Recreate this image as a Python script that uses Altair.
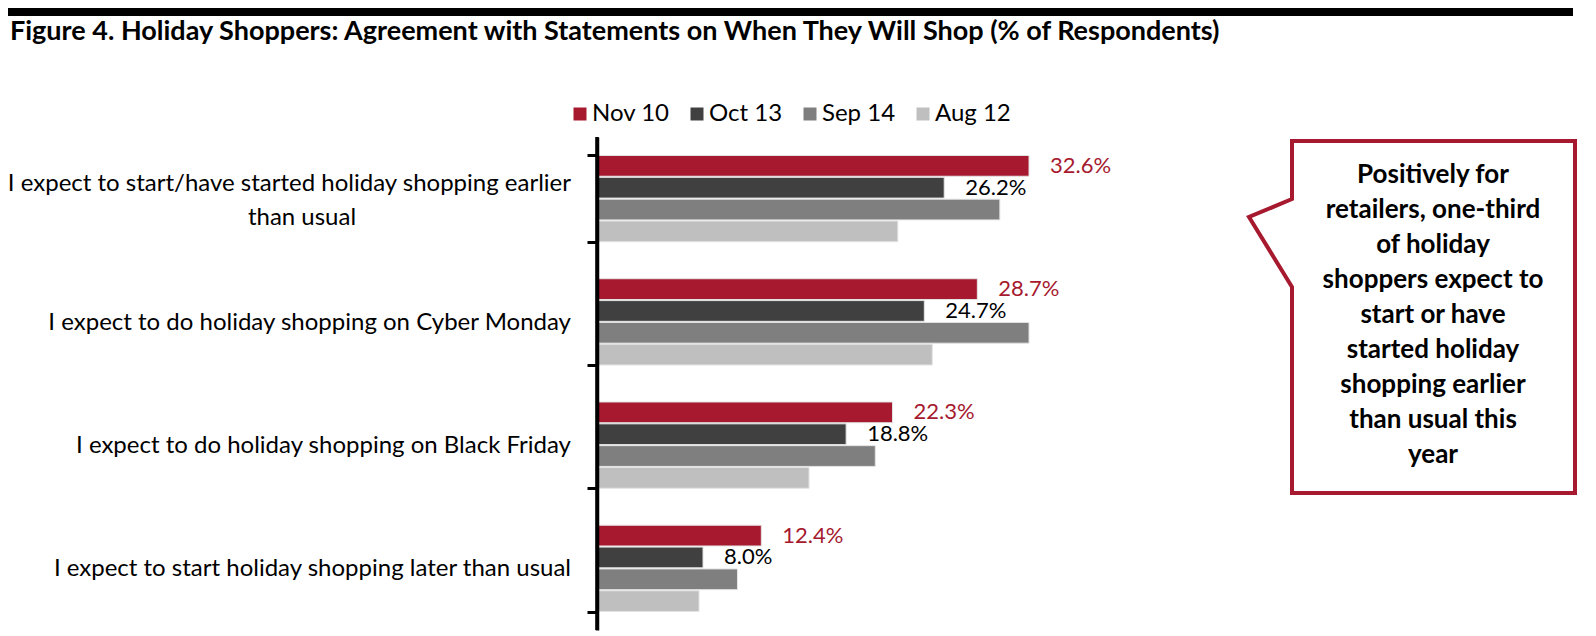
import altair as alt
import pandas as pd

# ---------------- data ----------------
categories = [
    "I expect to start/have started holiday shopping earlier than usual",
    "I expect to do holiday shopping on Cyber Monday",
    "I expect to do holiday shopping on Black Friday",
    "I expect to start holiday shopping later than usual",
]
first_label_lines = ["I expect to start/have started holiday shopping earlier", "than usual"]
series = ["Nov 10", "Oct 13", "Sep 14", "Aug 12"]
colors = ["#A6192E", "#404040", "#7F7F7F", "#BFBFBF"]
nov10 = [32.6, 28.7, 22.3, 12.4]
oct13 = [26.2, 24.7, 18.8, 8.0]
sep14 = [30.4, 32.6, 21.0, 10.6]
aug12 = [22.7, 25.3, 16.0, 7.7]

title_text = "Figure 4. Holiday Shoppers: Agreement with Statements on When They Will Shop (% of Respondents)"
callout_lines = [
    "Positively for", "retailers, one-third", "of holiday", "shoppers expect to",
    "start or have", "started holiday", "shopping earlier", "than usual this", "year",
]
# callout outline (pixel positions of the annotation shape)
callout_x = [836, 978, 978, 695, 695, 652, 695, 695, 836]
callout_y = [4, 4, 356, 356, 150, 80, 62, 4, 4]

# ---------------- tables ----------------
rows = []
for s, vals in zip(series, [nov10, oct13, sep14, aug12]):
    for c, v in zip(categories, vals):
        rows.append({"category": c, "series": s, "value": v})
df = pd.DataFrame(rows)
df["label"] = df["value"].map(lambda v: f"{v:.1f}%")

FONT = "Lato"
RED = "#A6192E"
W, H = 978, 493
XMAX = 73.8

xscale = alt.Scale(domain=[0, XMAX], nice=False, zero=True)
yscale = alt.Scale(paddingInner=0.3, paddingOuter=0.15)
yoff_scale = alt.Scale(paddingInner=0.05, paddingOuter=0)
yaxis = alt.Axis(
    labels=False, title=None, grid=False, domain=True, domainColor="black", domainWidth=3.5,
    ticks=True, tickColor="black", tickWidth=3, tickSize=10, tickBand="extent", zindex=1,
)

def ycat():
    return alt.Y("category:N", sort=categories, scale=yscale, axis=yaxis)

bars = alt.Chart(df).mark_bar(stroke="#E4E4E4", strokeWidth=1).encode(
    x=alt.X("value:Q", scale=xscale, axis=None),
    y=ycat(),
    yOffset=alt.YOffset("series:N", sort=series, scale=yoff_scale),
    color=alt.Color(
        "series:N", sort=series,
        scale=alt.Scale(domain=series, range=colors),
        legend=alt.Legend(
            orient="none", legendX=-29, legendY=-35, direction="horizontal", title=None,
            symbolType="square", symbolSize=169, symbolStrokeWidth=0, symbolOpacity=1,
            labelFont=FONT, labelFontSize=24, labelColor="black",
            columnPadding=15, labelOffset=0,
        ),
    ),
)

def value_labels(name, color):
    return alt.Chart(df[df["series"] == name]).mark_text(
        align="left", baseline="middle", dx=21, font=FONT, fontSize=22, color=color
    ).encode(
        x=alt.X("value:Q", scale=xscale, axis=None),
        y=ycat(),
        yOffset=alt.YOffset("series:N", sort=series, scale=yoff_scale),
        text="label:N",
    )

lab_nov = value_labels("Nov 10", RED)
lab_oct = value_labels("Oct 13", "black")

LABEL_SIZE = 24
single_df = pd.DataFrame({"category": categories[1:]})
cat_single = alt.Chart(single_df).mark_text(
    align="right", baseline="alphabetic", dy=8, font=FONT, fontSize=LABEL_SIZE, color="black"
).encode(x=alt.value(-26), y=ycat(), text="category:N")
line1_df = pd.DataFrame({"category": [categories[0]], "line": [first_label_lines[0]]})
line2_df = pd.DataFrame({"category": [categories[0]], "line": [first_label_lines[1]]})
cat_line1 = alt.Chart(line1_df).mark_text(
    align="right", baseline="alphabetic", dy=-7.6, font=FONT, fontSize=LABEL_SIZE, color="black"
).encode(x=alt.value(-26), y=ycat(), text="line:N")
cat_line2 = alt.Chart(line2_df).mark_text(
    align="center", baseline="alphabetic", dy=26.5, font=FONT, fontSize=LABEL_SIZE, color="black"
).encode(x=alt.value(-295), y=ycat(), text="line:N")

# the axis line itself (bracket spine), drawn explicitly
spine = alt.Chart(pd.DataFrame({"k": [0]})).mark_rule(
    color="black", strokeWidth=3.5, strokeCap="butt"
).encode(x=alt.value(0), y=alt.value(0), y2=alt.value(H))

main = alt.layer(bars, lab_nov, lab_oct, cat_single, cat_line1, cat_line2)

one = pd.DataFrame({"t": [title_text]})
top_bar = alt.Chart(one).mark_rect(color="black").encode(
    x=alt.value(-589), x2=alt.value(976), y=alt.value(-129), y2=alt.value(-121)
)
title = alt.Chart(one).mark_text(
    align="left", baseline="alphabetic", font=FONT, fontSize=27, fontWeight="bold", color="black"
).encode(x=alt.value(-587), y=alt.value(-97), text="t:N")

callout_df = pd.DataFrame({"px": callout_x, "py": callout_y, "i": list(range(len(callout_x)))})
callout_shape = alt.Chart(callout_df).mark_line(
    color=RED, strokeWidth=4, strokeJoin="miter", strokeCap="square"
).encode(
    x=alt.X("px:Q", scale=None),
    y=alt.Y("py:Q", scale=None),
    order="i:Q",
)
callout_text = alt.Chart(pd.DataFrame({"t": ["\n".join(callout_lines)]})).mark_text(
    align="center", baseline="middle", lineBreak="\n", lineHeight=35,
    font=FONT, fontSize=26, fontWeight="bold", color="black",
).encode(x=alt.value(836), y=alt.value(38), text="t:N")

chart = alt.layer(main, spine, top_bar, title, callout_shape, callout_text).resolve_scale(
    x="independent", y="independent"
).properties(
    width=W, height=H,
    autosize=alt.AutoSizeParams(type="none"),
    padding={"left": 589, "top": 129, "right": 12, "bottom": 6},
).configure_view(stroke=None)

chart.save("out.html", embed_options={"renderer": "svg", "actions": False})
